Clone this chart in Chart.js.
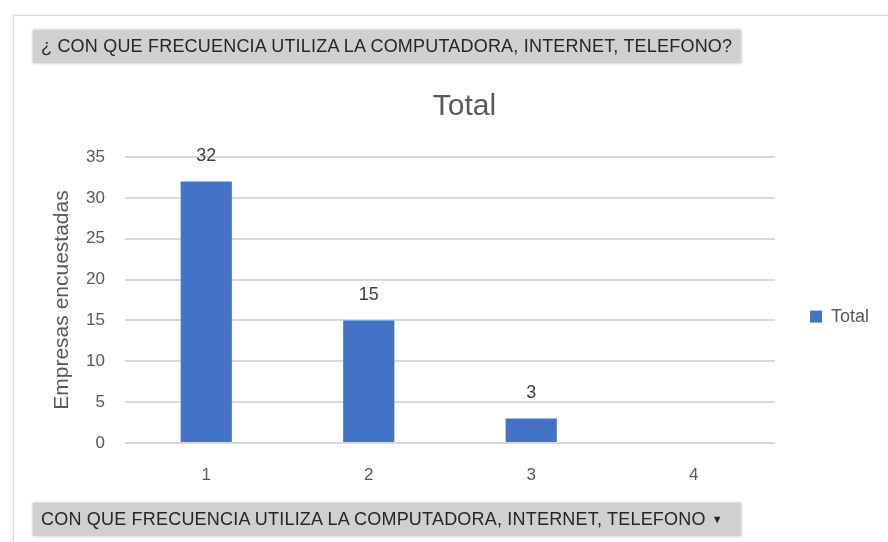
<!DOCTYPE html>
<html>
<head>
<meta charset="utf-8">
<script src="https://cdn.jsdelivr.net/npm/chart.js@4.4.1/dist/chart.umd.min.js"></script>
<style>
  body { margin: 0; background: #fff; width: 888px; height: 542px; overflow: hidden; position: relative; font-family: "Liberation Sans", Arial, sans-serif; }
  #frame { position: absolute; left: 13px; top: 15px; width: 900px; height: 560px; border-left: 1px solid #d9d9d9; border-top: 1px solid #d9d9d9; box-shadow: -1px -1px 2px #eee; }
  canvas { position: absolute; left: 0; top: 0; }
  .btn { position: absolute; left: 33px; height: 33px; width: 708px; background: #d0d0d0; box-shadow: 0 0 3px #b5b5b5; color: #262626; font-size: 18px; line-height: 33px; padding-left: 8px; box-sizing: border-box; white-space: nowrap; letter-spacing: 0.2px; }
  #topBtn { top: 30px; }
  #bottomBtn { top: 503px; }
  .arrow { font-size: 11px; margin-left: 6px; vertical-align: 2px; }
</style>
</head>
<body>
<div id="frame"></div>
<canvas id="barChart" width="888" height="542"></canvas>
<div class="btn" id="topBtn">¿ CON QUE FRECUENCIA UTILIZA LA COMPUTADORA, INTERNET, TELEFONO?</div>
<div class="btn" id="bottomBtn">CON QUE FRECUENCIA UTILIZA LA COMPUTADORA, INTERNET, TELEFONO<span class="arrow">▼</span></div>
<script>
// --- Data ---
const categories = ['1', '2', '3', '4'];
const totals = [32, 15, 3, null];
const yTicks = [0, 5, 10, 15, 20, 25, 30, 35];

const textGray = '#595959';

// draws the value above each bar
const valueLabels = {
    id: 'valueLabels',
    afterDatasetsDraw(chart) {
        const ctx = chart.ctx;
        const meta = chart.getDatasetMeta(0);
        ctx.save();
        ctx.font = '18px "Liberation Sans", Arial, sans-serif';
        ctx.fillStyle = '#404040';
        ctx.textAlign = 'center';
        ctx.textBaseline = 'middle';
        meta.data.forEach((bar, i) => {
            if (totals[i] == null) return;
            ctx.fillText(String(totals[i]), bar.x, bar.y - 25);
        });
        ctx.restore();
    }
};

const ctxBar = document.getElementById('barChart');
new Chart(ctxBar, {
    type: 'bar',
    data: {
        labels: categories,
        datasets: [{
            label: 'Total',
            data: totals,
            backgroundColor: '#4472c4',
            categoryPercentage: 1,
            barPercentage: 0.315
        }]
    },
    options: {
        responsive: false,
        animation: false,
        layout: { padding: { left: 50, top: 80, right: 9, bottom: 49 } },
        plugins: {
            title: {
                display: true,
                text: 'Total',
                color: textGray,
                font: { size: 30, weight: 'normal', family: '"Liberation Sans", Arial, sans-serif' },
                padding: { top: 9, bottom: 32 }
            },
            legend: {
                position: 'right',
                // empty title only pushes the single item down a bit
                title: { display: true, text: '', font: { size: 1 }, padding: { top: 59, bottom: 0 } },
                labels: {
                    boxWidth: 12,
                    boxHeight: 12,
                    padding: 35,
                    color: textGray,
                    font: { size: 18, family: '"Liberation Sans", Arial, sans-serif' }
                }
            },
            tooltip: { enabled: false }
        },
        scales: {
            y: {
                min: 0,
                max: 35,
                afterFit(scale) { scale.width = 75; },
                afterBuildTicks(scale) { scale.ticks = yTicks.map(v => ({ value: v })); },
                ticks: { color: textGray, padding: 20, font: { size: 17, family: '"Liberation Sans", Arial, sans-serif' } },
                grid: { color: '#d9d9d9', lineWidth: 2, drawTicks: false },
                border: { display: false },
                title: {
                    display: true,
                    text: 'Empresas encuestadas',
                    color: textGray,
                    padding: 0,
                    font: { size: 21, family: '"Liberation Sans", Arial, sans-serif' }
                }
            },
            x: {
                afterFit(scale) { scale.height = 50; },
                ticks: { color: textGray, padding: 14, font: { size: 17, family: '"Liberation Sans", Arial, sans-serif' } },
                grid: { display: false },
                border: { display: false }
            }
        }
    },
    plugins: [valueLabels]
});
</script>
</body>
</html>
